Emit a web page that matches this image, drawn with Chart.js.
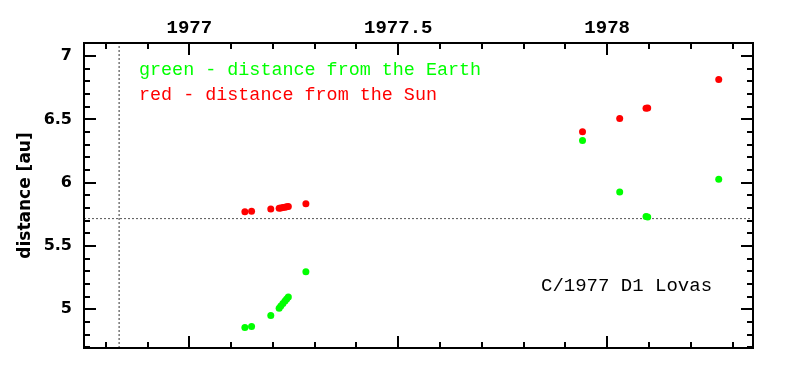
<!DOCTYPE html>
<html>
<head>
<meta charset="utf-8">
<script src="https://cdn.jsdelivr.net/npm/chart.js@4/dist/chart.umd.min.js"></script>
<style>
  body { margin: 0; background: #fff; }
</style>
</head>
<body>
<canvas id="comet-chart" width="795" height="374"></canvas>
<script>
// observation epochs (decimal years) and the two distances in au
const obsDates = [1977.133, 1977.149, 1977.195, 1977.215, 1977.219, 1977.224, 1977.229, 1977.233, 1977.237, 1977.279,
                  1977.941, 1978.030, 1978.093, 1978.097, 1978.267];
const earthDist = [4.855, 4.863, 4.950, 5.008, 5.026, 5.046, 5.066, 5.082, 5.097, 5.297,
                   6.332, 5.927, 5.733, 5.729, 6.027];
const sunDist = [5.771, 5.774, 5.792, 5.798, 5.800, 5.803, 5.806, 5.809, 5.811, 5.834,
                 6.403, 6.506, 6.588, 6.590, 6.814];

// perihelion time and distance (dotted lines)
const perihelionDate = 1976.832;
const perihelionDist = 5.716;

const xTickLabels = [1977, 1977.5, 1978];
const yTickLabels = [5, 5.5, 6, 6.5, 7];
const xRange = [1976.748, 1978.349];
const yRange = [4.694, 7.103];

const toPoints = (xs, ys) => xs.map((x, i) => ({x: x, y: ys[i]}));

// frame with inward ticks on all four sides, plus the text notes
const frameTicks = {
    id: 'frameTicks',
    afterDraw(chart) {
        const {ctx, chartArea: a, scales: {x, y}} = chart;
        ctx.save();
        ctx.strokeStyle = '#000';
        ctx.lineWidth = 2;
        ctx.beginPath();
        for (let i = Math.ceil(x.min * 10); i <= Math.floor(x.max * 10); i++) {
            const px = Math.round(x.getPixelForValue(i / 10));
            const len = i % 5 === 0 ? 12 : 6;
            ctx.moveTo(px, a.top); ctx.lineTo(px, a.top + len);
            ctx.moveTo(px, a.bottom); ctx.lineTo(px, a.bottom - len);
        }
        for (let i = Math.ceil(y.min * 10); i <= Math.floor(y.max * 10); i++) {
            const py = Math.round(y.getPixelForValue(i / 10));
            const len = i % 5 === 0 ? 12 : 6;
            ctx.moveTo(a.left, py); ctx.lineTo(a.left + len, py);
            ctx.moveTo(a.right, py); ctx.lineTo(a.right - len, py);
        }
        ctx.stroke();
        ctx.strokeRect(a.left, a.top, a.right - a.left, a.bottom - a.top);

        ctx.textBaseline = 'alphabetic';
        ctx.textAlign = 'left';
        ctx.font = '18.4px "Liberation Mono"';
        ctx.fillStyle = '#00ff00';
        ctx.fillText('green - distance from the Earth', a.left + 55, a.top + 32);
        ctx.fillStyle = '#ff0000';
        ctx.fillText('red - distance from the Sun', a.left + 55, a.top + 57);
        ctx.font = '19px "Liberation Mono"';
        ctx.fillStyle = '#000';
        ctx.fillText('C/1977 D1 Lovas', a.left + 457, a.top + 248);
        ctx.restore();
    }
};

new Chart(document.getElementById('comet-chart'), {
    type: 'scatter',
    data: {
        datasets: [{
            label: 'distance from the Earth',
            data: toPoints(obsDates, earthDist),
            backgroundColor: '#00ff00',
            borderWidth: 0,
            pointRadius: 3.5,
            order: 0
        }, {
            label: 'distance from the Sun',
            data: toPoints(obsDates, sunDist),
            backgroundColor: '#ff0000',
            borderWidth: 0,
            pointRadius: 3.5,
            order: 0
        }, {
            type: 'line',
            label: 'q',
            data: [{x: xRange[0], y: perihelionDist}, {x: xRange[1], y: perihelionDist}],
            borderColor: '#555',
            borderWidth: 1,
            borderDash: [2, 2],
            pointRadius: 0,
            order: 1
        }, {
            type: 'line',
            label: 'T',
            data: [{x: perihelionDate, y: yRange[0]}, {x: perihelionDate, y: yRange[1]}],
            borderColor: '#333',
            borderWidth: 1,
            borderDash: [2, 2],
            pointRadius: 0,
            order: 1
        }]
    },
    options: {
        responsive: false,
        animation: false,
        layout: {
            padding: {left: 0, top: 0, right: 42, bottom: 26}
        },
        plugins: {
            legend: {display: false},
            tooltip: {enabled: false}
        },
        scales: {
            x: {
                type: 'linear',
                position: 'top',
                min: xRange[0],
                max: xRange[1],
                grid: {display: false, drawTicks: false},
                border: {display: false},
                afterBuildTicks: (scale) => {
                    scale.ticks = xTickLabels.map(v => ({value: v}));
                },
                afterFit: (scale) => { scale.height = 43; },
                ticks: {
                    padding: 3,
                    color: '#000',
                    maxRotation: 0,
                    font: {family: '"Liberation Mono"', size: 19, weight: 'bold'},
                    callback: (v) => String(v)
                }
            },
            y: {
                type: 'linear',
                position: 'left',
                min: yRange[0],
                max: yRange[1],
                grid: {display: false, drawTicks: false},
                border: {display: false},
                afterBuildTicks: (scale) => {
                    scale.ticks = yTickLabels.map(v => ({value: v}));
                },
                afterFit: (scale) => { scale.width = 84; },
                title: {
                    display: true,
                    text: 'distance [au]',
                    color: '#000',
                    padding: {top: 15, bottom: 0},
                    font: {family: '"DejaVu Sans"', size: 17, weight: 'bold'}
                },
                ticks: {
                    padding: 12,
                    color: '#000',
                    font: {family: '"DejaVu Sans"', size: 16, weight: 'bold'},
                    callback: (v) => String(v)
                }
            }
        }
    },
    plugins: [frameTicks]
});
</script>
</body>
</html>
